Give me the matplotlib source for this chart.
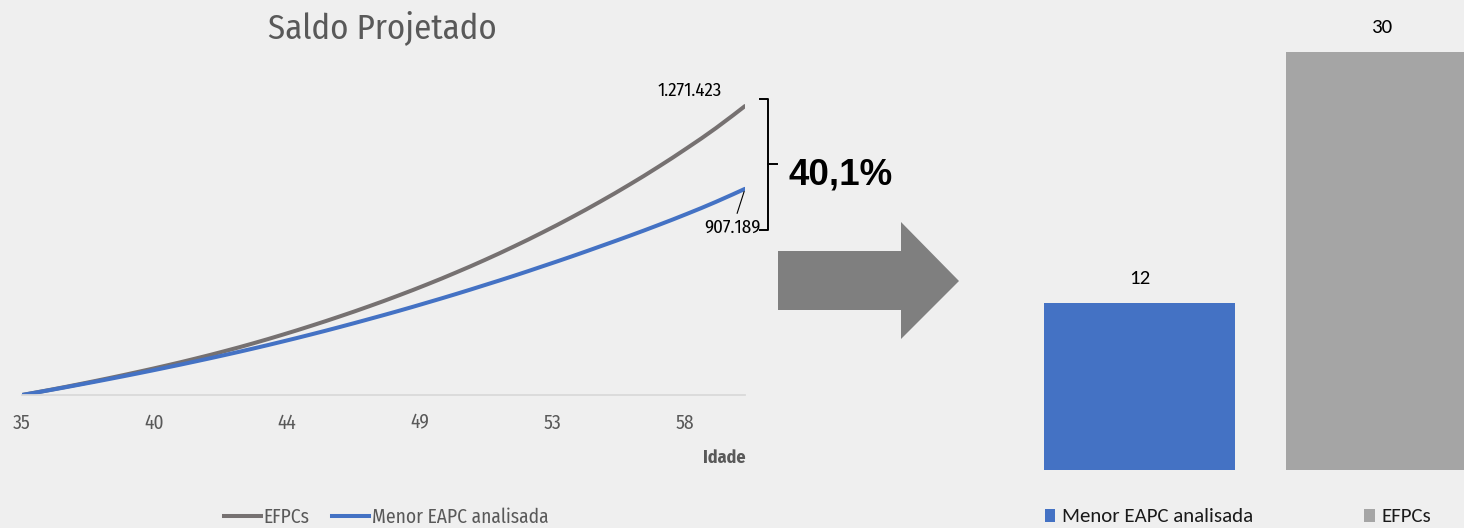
import numpy as np
import matplotlib
matplotlib.use("Agg")
import matplotlib.pyplot as plt
from matplotlib.lines import Line2D
from matplotlib.patches import Polygon, Patch, PathPatch
from matplotlib.path import Path

# ---------------- data ----------------
ages = list(range(35, 61))
efpcs = [0, 23300, 48000, 73900, 101200, 129800, 160200, 192700, 227500, 264900,
         304500, 346300, 390300, 436900, 486200, 538600, 594000, 653000, 715400,
         781400, 851400, 925300, 1003600, 1086800, 1174800, 1271423]
menor_eapc = [0, 22400, 45800, 70000, 95000, 121000, 147800, 175600, 204600, 235000,
              266600, 299600, 334000, 369200, 406100, 444000, 483600, 524000, 566300,
              609400, 654300, 700000, 747600, 797300, 850100, 907189]
tick_labels = ["35", "40", "44", "49", "53", "58"]
tick_step_years = 55 / 12  # one label every 55 monthly categories

bar_categories = ["Menor EAPC analisada", "EFPCs"]
bar_values = [12, 30]

end_labels = ["1.271.423", "907.189"]
diff_label = "40,1%"

# ---------------- style ----------------
W, H = 1464, 528
BG = "#efefef"
BLUE = "#4472C4"
GRAY_LINE = "#767171"
GRAY_BAR = "#A5A5A5"
TXT = "#595959"
cond = ["Fira Sans Condensed", "Roboto Condensed", "Carlito", "DejaVu Sans"]
calib = ["Carlito", "DejaVu Sans"]
arial = ["Liberation Sans", "DejaVu Sans"]


def fx(x):
    return x / W


def fy(y):
    return 1 - y / H


def smooth_path(xs, ys):
    """Excel-like smoothed line (Catmull-Rom as cubic Bezier) through the points."""
    P = np.column_stack([xs, ys]).astype(float)
    n = len(P)
    verts = [P[0]]
    codes = [Path.MOVETO]
    for i in range(n - 1):
        p0 = P[i - 1] if i > 0 else P[i]
        p3 = P[i + 2] if i + 2 < n else P[i + 1]
        c1 = P[i] + (P[i + 1] - p0) / 6.0
        c2 = P[i + 1] - (p3 - P[i]) / 6.0
        verts += [c1, c2, P[i + 1]]
        codes += [Path.CURVE4] * 3
    return Path(verts, codes)


fig = plt.figure(figsize=(W / 100, H / 100), dpi=100, facecolor=BG)

# ---------------- line chart ----------------
units_per_px = 4400.0
ax = fig.add_axes([fx(22), fy(395), (745 - 22) / W, (395 - 60) / H])
ax.patch.set_alpha(0)
LW = 2.9
ax.add_patch(PathPatch(smooth_path(ages, efpcs), fill=False, edgecolor=GRAY_LINE,
                       lw=LW, capstyle="round", joinstyle="round"))
ax.add_patch(PathPatch(smooth_path(ages, menor_eapc), fill=False, edgecolor=BLUE,
                       lw=LW, capstyle="round", joinstyle="round"))
ax.set_xlim(ages[0], ages[-1])
ax.set_ylim(0, (395 - 60) * units_per_px)
for s in ["top", "right", "left"]:
    ax.spines[s].set_visible(False)
ax.spines["bottom"].set_color("#d9d9d9")
ax.spines["bottom"].set_linewidth(1.3)
ax.set_yticks([])
ticks = ages[0] + np.arange(len(tick_labels)) * tick_step_years
ax.set_xticks(ticks, tick_labels)
ax.tick_params(axis="x", length=0, pad=13, labelsize=14, labelcolor=TXT)
for t in ax.get_xticklabels():
    t.set_family(cond)

ax.annotate(end_labels[0], xy=(ages[-1], efpcs[-1]), xytext=(-40, 11),
            textcoords="offset points", ha="center", va="center",
            fontsize=13.5, family=cond, color="black", annotation_clip=False)
ax.annotate(end_labels[1], xy=(ages[-1], menor_eapc[-1]), xytext=(-9, -28),
            textcoords="offset points", ha="center", va="center",
            fontsize=13.5, family=cond, color="black", annotation_clip=False,
            arrowprops=dict(arrowstyle="-", color="black", lw=0.8,
                            shrinkA=2, shrinkB=2))

fig.text(fx(382), fy(28), "Saldo Projetado", ha="center", va="center",
         fontsize=25, color=TXT, family=cond, fontweight="normal")
fig.text(fx(745), fy(458), "Idade", ha="right", va="center", fontsize=13,
         fontweight="bold", color=TXT, family=cond)

h1 = Line2D([], [], color=GRAY_LINE, lw=LW)
h2 = Line2D([], [], color=BLUE, lw=LW)
fig.legend(handles=[h1, h2], labels=["EFPCs", "Menor EAPC analisada"],
           loc="center", bbox_to_anchor=(fx(386), fy(517)), ncol=2,
           frameon=False, handlelength=1.9, handletextpad=0.12,
           columnspacing=1.2, prop={"family": cond, "size": 14},
           labelcolor=TXT, borderpad=0, borderaxespad=0)

# ---------------- bracket and label ----------------
br_pts = [(760, 99), (768, 99), (768, 230), (760, 230)]
fig.add_artist(Line2D([fx(p[0]) for p in br_pts], [fy(p[1]) for p in br_pts],
                      color="black", lw=1.4, transform=fig.transFigure))
fig.add_artist(Line2D([fx(768), fx(777)], [fy(164), fy(164)], color="black",
                      lw=1.4, transform=fig.transFigure))
fig.text(fx(789), fy(175), diff_label, ha="left", va="center", fontsize=26.5,
         fontweight="bold", family=arial, color="black")

# ---------------- block arrow ----------------
arrow_pts = [(778, 251), (901, 251), (901, 222), (959, 281), (901, 339),
             (901, 310), (778, 310)]
fig.add_artist(Polygon([(fx(x), fy(y)) for x, y in arrow_pts], closed=True,
                       facecolor="#7f7f7f", edgecolor="none",
                       transform=fig.transFigure))

# ---------------- bar chart ----------------
px_per_cat = 242.0
cx0 = 1139.5
bar_px_per_unit = 13.95
bx = fig.add_axes([fx(1018.5), fy(470), (W - 1018.5) / W, (470 - 10) / H])
bx.patch.set_alpha(0)
bars = bx.bar(range(len(bar_values)), bar_values, width=0.79,
              color=[BLUE, GRAY_BAR])
bx.set_xlim(-0.5, (W - cx0) / px_per_cat)
bx.set_ylim(0, (470 - 10) / bar_px_per_unit)
bx.axis("off")
bx.bar_label(bars, labels=[str(v) for v in bar_values], padding=11,
             fontsize=15, family=calib, color="black")

fig.legend(handles=[Patch(facecolor=BLUE), Patch(facecolor=GRAY_BAR)],
           labels=bar_categories, loc="center",
           bbox_to_anchor=(fx(1238), fy(517)), ncol=2, frameon=False,
           handlelength=0.52, handleheight=0.6, handletextpad=0.33,
           columnspacing=5.3, prop={"family": calib, "size": 15},
           labelcolor="#1a1a1a", borderpad=0, borderaxespad=0)

fig.savefig("out.png", dpi=100, facecolor=BG)
